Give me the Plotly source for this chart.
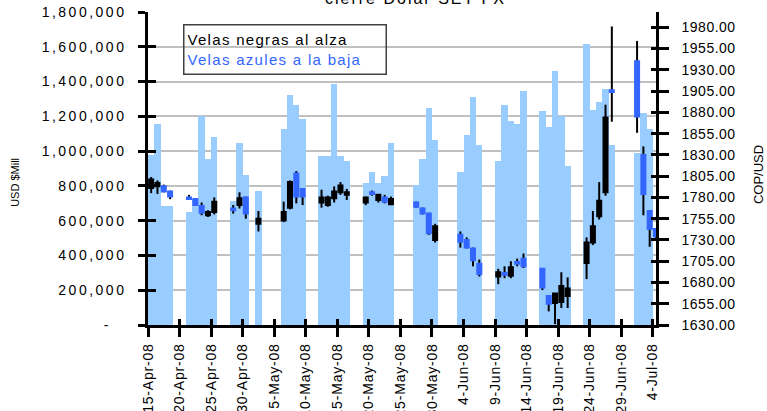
import plotly.graph_objects as go
import pandas as pd

# ---------------- data ----------------
dates = [
    "2008-04-15", "2008-04-16", "2008-04-17", "2008-04-18",
    "2008-04-21", "2008-04-22", "2008-04-23", "2008-04-24", "2008-04-25",
    "2008-04-28", "2008-04-29", "2008-04-30", "2008-05-02",
    "2008-05-06", "2008-05-07", "2008-05-08", "2008-05-09",
    "2008-05-12", "2008-05-13", "2008-05-14", "2008-05-15", "2008-05-16",
    "2008-05-19", "2008-05-20", "2008-05-21", "2008-05-22", "2008-05-23",
    "2008-05-27", "2008-05-28", "2008-05-29", "2008-05-30",
    "2008-06-03", "2008-06-04", "2008-06-05", "2008-06-06",
    "2008-06-09", "2008-06-10", "2008-06-11", "2008-06-12", "2008-06-13",
    "2008-06-16", "2008-06-17", "2008-06-18", "2008-06-19", "2008-06-20",
    "2008-06-23", "2008-06-24", "2008-06-25", "2008-06-26", "2008-06-27",
    "2008-07-01", "2008-07-02", "2008-07-03", "2008-07-04",
]

volume = [
    980000, 1158000, 683000, 683000,
    652000, 727000, 1200000, 955000, 1082000,
    716000, 1049000, 865000, 773000,
    1129000, 1325000, 1267000, 1187000,
    974000, 974000, 1388000, 974000, 945000,
    819000, 880000, 817000, 855000, 1047000,
    807000, 955000, 1248000, 1066000,
    880000, 1095000, 1311000, 1037000,
    945000, 1267000, 1175000, 1158000, 1344000,
    1233000, 1139000, 1463000, 1200000, 913000,
    1618000, 1234000, 1280000, 1359000, 1037000,
    990000, 1220000, 1129000, None,
]

open_ = [
    1791, 1793, 1793, 1787,
    1780, 1778, 1770, 1759, 1763,
    1767, 1771, 1780, 1749,
    1753, 1768, 1808, 1790,
    1774, 1771, 1779, 1786, 1783,
    1774, 1786, 1777, 1780, 1772,
    1774, 1767, 1761, 1730,
    1736, 1730, 1720, 1702,
    1687, 1691, 1688, 1704, 1708,
    1696, 1664, 1656, 1657, 1664,
    1703, 1727, 1758, 1786, 1906,
    1940, 1830, 1764, 1743,
]
high = [
    1804, 1800, 1795, 1788,
    1783, 1779, 1774, 1765, 1780,
    1771, 1786, 1781, 1764,
    1775, 1800, 1811, 1791,
    1789, 1782, 1793, 1798, 1790,
    1781, 1788, 1784, 1783, 1781,
    1775, 1768, 1762, 1749,
    1740, 1733, 1721, 1707,
    1696, 1699, 1705, 1708, 1714,
    1697, 1665, 1667, 1692, 1686,
    1733, 1764, 1798, 1889, 1981,
    1964, 1840, 1765, 1744,
]
low = [
    1785, 1784, 1786, 1778,
    1777, 1770, 1759, 1757, 1760,
    1761, 1767, 1755, 1740,
    1751, 1766, 1773, 1771,
    1768, 1769, 1774, 1783, 1777,
    1771, 1782, 1774, 1773, 1771,
    1768, 1760, 1736, 1727,
    1721, 1720, 1699, 1687,
    1678, 1685, 1685, 1699, 1697,
    1671, 1646, 1631, 1650, 1650,
    1684, 1724, 1754, 1782, 1869,
    1856, 1759, 1722, 1732,
]
close = [
    1801, 1797, 1787, 1781,
    1778, 1771, 1762, 1763, 1775,
    1765, 1779, 1761, 1755,
    1763, 1798, 1781, 1781,
    1780, 1780, 1787, 1794, 1786,
    1780, 1784, 1783, 1775, 1778,
    1769, 1761, 1738, 1746,
    1728, 1721, 1706, 1690,
    1692, 1689, 1698, 1702, 1699,
    1674, 1655, 1667, 1676, 1673,
    1727, 1746, 1776, 1874, 1904,
    1875, 1784, 1743, 1734,
]

tick_dates = ["2008-04-15", "2008-04-20", "2008-04-25", "2008-04-30", "2008-05-05",
              "2008-05-10", "2008-05-15", "2008-05-20", "2008-05-25", "2008-05-30",
              "2008-06-04", "2008-06-09", "2008-06-14", "2008-06-19", "2008-06-24",
              "2008-06-29", "2008-07-04"]
tick_labels = ["15-Apr-08", "20-Apr-08", "25-Apr-08", "30-Apr-08", "5-May-08",
               "10-May-08", "15-May-08", "20-May-08", "25-May-08", "30-May-08",
               "4-Jun-08", "9-Jun-08", "14-Jun-08", "19-Jun-08", "24-Jun-08",
               "29-Jun-08", "4-Jul-08"]

left_vals = [0, 200000, 400000, 600000, 800000, 1000000, 1200000, 1400000, 1600000, 1800000]
left_text = ["-", "200,000", "400,000", "600,000", "800,000", "1,000,000",
             "1,200,000", "1,400,000", "1,600,000", "1,800,000"]
right_vals = [1630, 1655, 1680, 1705, 1730, 1755, 1780, 1805, 1830, 1855,
              1880, 1905, 1930, 1955, 1980]
right_text = ["1630.00", "1655.00", "1680.00", "1705.00", "1730.00", "1755.00",
              "1780.00", "1805.00", "1830.00", "1855.00", "1880.00", "1905.00",
              "1930.00", "1955.00", "1980.00"]

title_text = "cierre Dolar SET FX"
legend_up = "Velas negras al alza"
legend_down = "Velas azules a la baja"
left_title = "USD $Mill"
right_title = "COP/USD"

# ---------------- styling ----------------
FONT = "Liberation Sans, Arial, sans-serif"
BAR_COLOR = "#99CCFF"
BLUE = "#3366FF"
DAY_MS = 86400000


def sp(text, ls):
    return f'<span style="letter-spacing:{ls}px">{text}</span>'


x = pd.to_datetime(dates) + pd.Timedelta(hours=12)
x_range = [pd.Timestamp("2008-04-15"), pd.Timestamp("2008-07-04 12:00")]
y2_range = [1630, 1998]

body_hi = [max(o, c) for o, c in zip(open_, close)]
body_lo = [min(o, c) for o, c in zip(open_, close)]

wick_x, wick_y = [], []
for xi, lo, hi in zip(x, low, high):
    wick_x += [xi, xi, None]
    wick_y += [lo, hi, None]

fig = go.Figure()
fig.add_trace(go.Bar(x=x, y=volume, width=DAY_MS, marker_color=BAR_COLOR,
                     marker_line_width=0, yaxis="y", hoverinfo="skip"))
fig.add_trace(go.Scatter(x=wick_x, y=wick_y, mode="lines",
                         line=dict(color="black", width=2), yaxis="y2",
                         hoverinfo="skip"))
fig.add_trace(go.Candlestick(
    x=x, open=open_, high=body_hi, low=body_lo, close=close, yaxis="y4",
    increasing=dict(line=dict(color="black", width=2), fillcolor="black"),
    decreasing=dict(line=dict(color=BLUE, width=2), fillcolor=BLUE),
    whiskerwidth=0))
# empty helper trace so the overlay tick axes are drawn
fig.add_trace(go.Scatter(x=[], y=[], xaxis="x2", yaxis="y3"))

left_ticktext = [sp(t, 18) if t == "-" else sp(t, 2.5) for t in left_text]

fig.update_layout(
    width=767, height=411,
    margin=dict(l=148, r=111, t=12, b=86, autoexpand=False),
    paper_bgcolor="white", plot_bgcolor="white",
    showlegend=False, barmode="overlay", bargap=0,
    boxgap=0.25, boxgroupgap=0.15,
    font=dict(family=FONT, color="black", size=14),
    xaxis=dict(
        type="date", range=x_range, rangeslider=dict(visible=False),
        tickmode="array", tickvals=tick_dates,
        ticktext=[sp(t, 0.8) for t in tick_labels],
        tickangle=-90, ticks="outside", ticklen=9, tickwidth=2.5, tickcolor="black",
        showline=True, linecolor="black", linewidth=2.5, showgrid=False,
        zeroline=False, tickfont=dict(size=14), ticklabelstandoff=1,
        automargin=False,
    ),
    xaxis2=dict(
        type="date", range=x_range, overlaying="x", anchor="y",
        tickmode="array", tickvals=tick_dates, showticklabels=False,
        ticks="inside", ticklen=6, tickwidth=2.5, tickcolor="black",
        showline=False, showgrid=False, zeroline=False, automargin=False,
    ),
    yaxis=dict(
        range=[0, 1800000], tickmode="array", tickvals=left_vals,
        ticktext=left_ticktext,
        ticks="outside", ticklen=7, tickwidth=2.5, tickcolor="black",
        showline=True, linecolor="black", linewidth=2.5,
        showgrid=True, gridcolor="#C0C0C0", gridwidth=1.5, zeroline=False,
        tickfont=dict(size=14), ticklabelstandoff=9, automargin=False,
    ),
    yaxis3=dict(
        range=[0, 1800000], overlaying="y", anchor="x", side="left",
        tickmode="array", tickvals=left_vals, showticklabels=False,
        ticks="inside", ticklen=8, tickwidth=2.5, tickcolor="black",
        showline=False, showgrid=False, zeroline=False, automargin=False,
    ),
    yaxis2=dict(
        range=y2_range, overlaying="y", anchor="x", side="right",
        tickmode="array", tickvals=right_vals,
        ticktext=[sp(t, 0.5) for t in right_text],
        ticks="outside", ticklen=10, tickwidth=2.5, tickcolor="black",
        showline=True, linecolor="black", linewidth=2.5,
        showgrid=False, zeroline=False, tickfont=dict(size=14),
        ticklabelstandoff=10, automargin=False,
    ),
    yaxis4=dict(
        range=y2_range, overlaying="y", anchor="x", side="right",
        tickmode="array", tickvals=right_vals, showticklabels=False,
        ticks="inside", ticklen=5, tickwidth=2.5, tickcolor="black",
        showline=False, showgrid=False, zeroline=False, automargin=False,
    ),
    annotations=[
        dict(xref="paper", yref="paper", x=0.0689, y=0.962, xanchor="left",
             yanchor="top", align="left", showarrow=False,
             text=sp(legend_up, 1.3) + "<br>" +
             f'<span style="letter-spacing:1.3px;color:{BLUE}">{legend_down}</span>',
             font=dict(size=15, color="black", family=FONT),
             bordercolor="#404040", borderwidth=1.5, borderpad=3,
             width=195, height=42, bgcolor="rgba(255,255,255,0)"),
        dict(xref="paper", yref="paper", x=0.5256, y=1.0096, xanchor="center",
             yanchor="bottom", showarrow=False, text=sp(title_text, 2),
             font=dict(size=16, color="black", family=FONT)),
        dict(xref="paper", yref="paper", x=-0.262, y=0.457, xanchor="center",
             yanchor="middle", showarrow=False, textangle=-90,
             text=left_title,
             font=dict(size=11, color="black", family=FONT)),
        dict(xref="paper", yref="paper", x=1.2008, y=0.479, xanchor="center",
             yanchor="middle", showarrow=False, textangle=-90, text=right_title,
             font=dict(size=13, color="black", family=FONT)),
    ],
)

fig.write_html("out.html",
               config={"displayModeBar": False},
               post_script="document.body.style.margin='0';")
